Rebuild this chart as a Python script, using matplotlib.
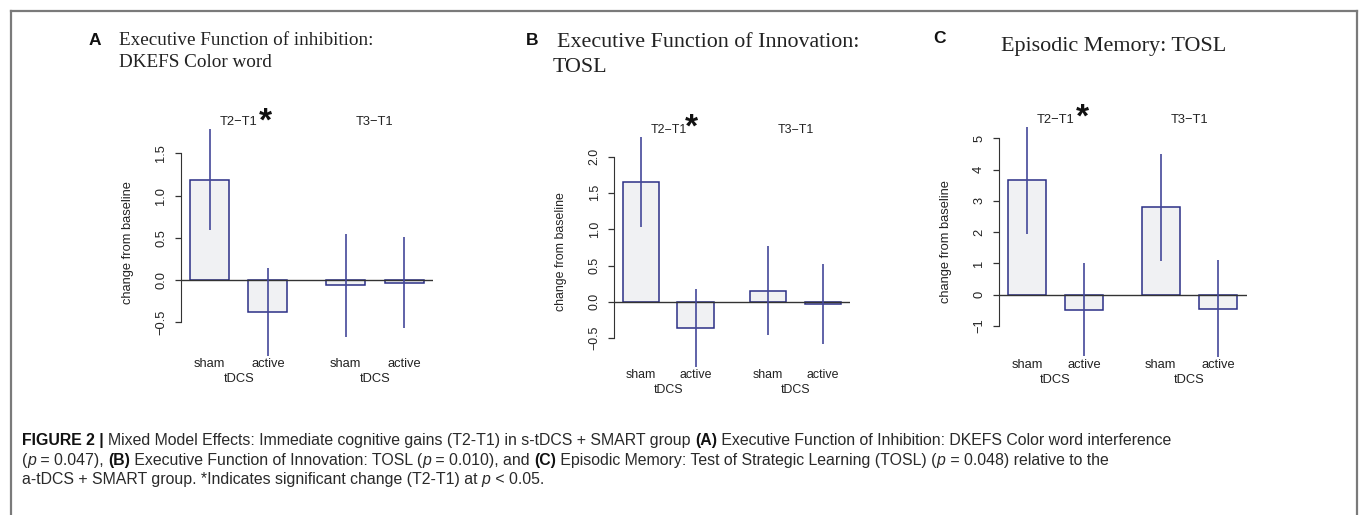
import matplotlib
matplotlib.use("Agg")
import matplotlib.pyplot as plt
from matplotlib.lines import Line2D
from matplotlib import font_manager

W, H = 1359, 515

conditions = ["sham", "active"]
intervals = ["T2\u2212T1", "T3\u2212T1"]

# change from baseline: sham T2-T1, active T2-T1, sham T3-T1, active T3-T1
inhib_means = [1.19, -0.375, -0.063, -0.03]
inhib_errs = [0.60, 0.52, 0.61, 0.54]
innov_means = [1.65, -0.358, 0.152, -0.028]
innov_errs = [0.615, 0.535, 0.61, 0.555]
memory_means = [3.65, -0.48, 2.785, -0.447]
memory_errs = [1.70, 1.49, 1.70, 1.54]

inhib_ticks = [-0.5, 0.0, 0.5, 1.0, 1.5]
innov_ticks = [-0.5, 0.0, 0.5, 1.0, 1.5, 2.0]
memory_ticks = [-1, 0, 1, 2, 3, 4, 5]

FILL = "#f0f1f3"
NAVY = "#2b2f86"
ERR = "#44489a"
INK = "#222222"
SANS = "Liberation Sans"
SERIF = "Liberation Serif"

names = {f.name for f in font_manager.fontManager.ttflist}
CAP_FONT = "Liberation Sans Narrow" if "Liberation Sans Narrow" in names else SANS

fig = plt.figure(figsize=(W / 100, H / 100), dpi=100)
PT = 0.72  # points per pixel


def px(x, y):
    return x / W, 1 - y / H


def panel(box, means, errs, ticks, fmt, star_dx, star_dy, fs=9.3):
    left, top, right, bottom = box
    ax = fig.add_axes([left / W, 1 - bottom / H, (right - left) / W, (bottom - top) / H])
    # bars: 1.5 widths apart inside a pair, 2 widths between the pairs
    x = [0, 1.5, 3.5, 5.0]
    ax.bar(x, means, width=1, color=FILL, edgecolor=NAVY, linewidth=1.1, zorder=2)
    ax.errorbar(x, means, yerr=errs, fmt="none", ecolor=ERR, elinewidth=1.2,
                capsize=0, zorder=3)
    ax.axhline(0, color="#333333", lw=1, zorder=2.5)
    lo = min(m - e for m, e in zip(means, errs))
    hi = max(m + e for m, e in zip(means, errs))
    ax.set_ylim(lo, hi)
    ax.set_xlim(-0.74, 5.75)
    for s in ["top", "right", "bottom"]:
        ax.spines[s].set_visible(False)
    ax.spines["left"].set_bounds(ticks[0], ticks[-1])
    ax.spines["left"].set_color("#333333")
    ax.set_yticks(ticks, [fmt(t) for t in ticks])
    ax.tick_params(axis="y", length=4.3, width=0.9, direction="out", pad=5.5,
                   labelrotation=90, labelsize=fs, labelcolor=INK, color="#333333")
    for lab in ax.get_yticklabels():
        lab.set_fontfamily(SANS)
        lab.set_va("center")
    ax.set_xticks(x, conditions * 2)
    ax.tick_params(axis="x", length=0, pad=2, labelsize=fs, labelcolor=INK)
    for lab in ax.get_xticklabels():
        lab.set_fontfamily(SANS)
    ax.set_ylabel("change from baseline", fontsize=fs, color=INK, family=SANS, va="center")
    ax.yaxis.set_label_coords(-53 / (right - left), 0.5)
    for i, name in enumerate(intervals):
        gc = (x[2 * i] + x[2 * i + 1]) / 2
        ax.annotate(name, xy=(gc, 1), xycoords=("data", "axes fraction"),
                    xytext=(0, 7.3 * PT), textcoords="offset points",
                    ha="center", va="center", fontsize=fs, color=INK, family=SANS)
        ax.annotate("tDCS", xy=(gc, 0), xycoords=("data", "axes fraction"),
                    xytext=(0, -23.5 * PT), textcoords="offset points",
                    ha="center", va="center", fontsize=fs, color=INK, family=SANS)
    gc = (x[0] + x[1]) / 2
    ax.annotate("*", xy=(gc, 1), xycoords=("data", "axes fraction"),
                xytext=(star_dx * PT, star_dy * PT), textcoords="offset points",
                ha="center", va="center", fontsize=24, fontweight="bold",
                color="#111111", family=SANS)
    return ax


def num1(t):
    return f"{t:.1f}".replace("-", "\u2212")


def num0(t):
    return f"{t:d}".replace("-", "\u2212")


panel((180.7, 129, 433.3, 355.7), inhib_means, inhib_errs, inhib_ticks, num1, 27, 7)
panel((614.3, 137.3, 850, 366.7), innov_means, innov_errs, innov_ticks, num1, 23, 9, fs=8.9)
panel((998.7, 127.3, 1246.7, 356.7), memory_means, memory_errs, memory_ticks, num0, 27, 9)

# panel letters and titles
fig.text(*px(89, 45), "A", fontsize=12.5, fontweight="bold", family=SANS, color="#111111")
fig.text(*px(119, 45), "Executive Function of inhibition:", fontsize=13.8, family=SERIF,
         color="#222222", va="baseline")
fig.text(*px(119, 67), "DKEFS Color word", fontsize=13.8, family=SERIF, color="#222222",
         va="baseline")
fig.text(*px(526, 45), "B", fontsize=12.5, fontweight="bold", family=SANS, color="#111111")
fig.text(*px(557, 47), "Executive Function of Innovation:", fontsize=15.8, family=SERIF,
         color="#222222", va="baseline")
fig.text(*px(553, 72), "TOSL", fontsize=15.8, family=SERIF, color="#222222", va="baseline")
fig.text(*px(933, 43), "C", fontsize=12.5, fontweight="bold", family=SANS, color="#111111")
fig.text(*px(1001, 51), "Episodic Memory: TOSL", fontsize=15.9, family=SERIF,
         color="#222222", va="baseline")

# frame
frame = dict(color="#7a7a7a", lw=1.6, transform=fig.transFigure)
fig.add_artist(Line2D([11 / W, 1357 / W], [1 - 11 / H, 1 - 11 / H], **frame))
fig.add_artist(Line2D([11 / W, 11 / W], [1 - 11 / H, 0], **frame))
fig.add_artist(Line2D([1357 / W, 1357 / W], [1 - 11 / H, 0], **frame))

# caption, written piece by piece
caption = [
    [("FIGURE 2 | ", "bold"),
     ("Mixed Model Effects: Immediate cognitive gains (T2-T1) in s-tDCS + SMART group ", ""),
     ("(A)", "bold"),
     (" Executive Function of Inhibition: DKEFS Color word interference", "")],
    [("(", ""), ("p", "italic"), (" = 0.047), ", ""), ("(B)", "bold"),
     (" Executive Function of Innovation: TOSL (", ""), ("p", "italic"),
     (" = 0.010), and ", ""), ("(C)", "bold"),
     (" Episodic Memory: Test of Strategic Learning (TOSL) (", ""), ("p", "italic"),
     (" = 0.048) relative to the", "")],
    [("a-tDCS + SMART group. *Indicates significant change (T2-T1) at ", ""),
     ("p", "italic"), (" < 0.05.", "")],
]
baselines = [445, 465, 484]
renderer = fig.canvas.get_renderer()
for line, yb in zip(caption, baselines):
    xpos = 22 / W
    for text, style in line:
        t = fig.text(xpos, 1 - yb / H, text, fontsize=11.4, family=CAP_FONT,
                     color="#111111" if style == "bold" else "#2a2a2a",
                     fontweight="bold" if style == "bold" else "normal",
                     fontstyle="italic" if style == "italic" else "normal",
                     va="baseline")
        xpos += t.get_window_extent(renderer).width / W

fig.savefig("out.png", dpi=100)
